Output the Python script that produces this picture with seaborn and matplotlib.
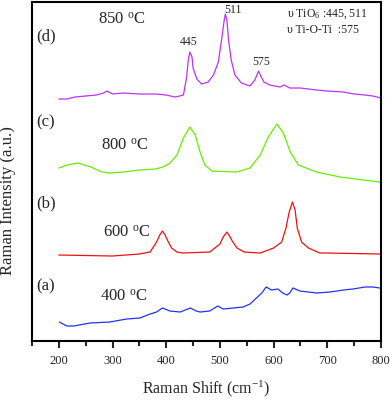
import numpy as np
import pandas as pd
import matplotlib
matplotlib.use('Agg')
import matplotlib.pyplot as plt
import seaborn as sns
from matplotlib.ticker import MultipleLocator

# Raman spectra (arbitrary intensity units)
x_400 = [201, 215, 228, 258, 295, 326, 351, 370, 382, 393, 407, 426, 445, 456, 463,
         481, 496, 506, 525, 543, 556, 568, 578, 586, 596, 608, 617, 625, 630, 636,
         649, 680, 705, 730, 748, 770, 785, 798]
y_400 = [19, 15, 15, 18, 19, 22, 23, 27, 29, 33, 30, 29, 33, 30, 29,
         30, 35, 32, 33, 34, 37, 43, 48, 54, 51, 52, 48, 46, 48, 53,
         50, 48, 49, 51, 52, 54, 54, 53]

x_600 = [200, 300, 350, 370, 382, 388, 393, 398, 403, 410, 420, 431, 481, 500, 506,
         513, 519, 524, 532, 545, 575, 600, 615, 623, 629, 635, 640, 644, 652, 665,
         686, 700, 800]
y_600 = [86, 85, 87, 89, 99, 106, 110, 106, 100, 93, 89, 88, 89, 97, 104,
         109, 104, 99, 93, 89, 88, 93, 99, 113, 129, 139, 131, 113, 99, 93,
         88, 88, 87]

x_800 = [200, 215, 236, 260, 280, 295, 320, 351, 380, 394, 407, 420, 432, 444, 454,
         463, 472, 485, 531, 556, 575, 590, 606, 618, 631, 646, 680, 724, 767, 798]
y_800 = [173, 176, 178, 174, 169, 168, 169, 171, 172, 174, 178, 186, 203, 214, 206,
         189, 176, 170, 169, 173, 186, 204, 217, 208, 189, 176, 169, 164, 161, 159]

x_850 = [200, 215, 230, 250, 270, 283, 290, 300, 320, 350, 380, 400, 416, 425, 432,
         438, 441, 444, 448, 450, 457, 466, 478, 488, 497, 503, 508, 510, 513, 516,
         521, 528, 540, 556, 565, 572, 576, 582, 593, 612, 620, 630, 650, 680, 700,
         730, 750, 770, 785, 800]
y_850 = [242, 242, 244, 245, 246, 248, 250, 247, 248, 247, 247, 246, 244, 245, 246,
         264, 281, 289, 284, 273, 262, 257, 259, 266, 279, 301, 321, 327, 321, 301,
         281, 266, 258, 255, 261, 270, 265, 259, 256, 254, 256, 253, 253, 251, 250,
         249, 247, 246, 245, 243]

series = ['400', '600', '800', '850']
colors = ['#2233ee', '#ee1111', '#66ee00', '#bb33ff']
temp_labels = ['400 $^{\\mathrm{o}}$C', '600 $^{\\mathrm{o}}$C',
               '800 $^{\\mathrm{o}}$C', '850 $^{\\mathrm{o}}$C']
letters = ['(a)', '(b)', '(c)', '(d)']
peak_labels = ['445', '511', '575']

frames = []
for name, xs, ys in zip(series, [x_400, x_600, x_800, x_850], [y_400, y_600, y_800, y_850]):
    frames.append(pd.DataFrame({'shift': xs, 'intensity': ys, 'sample': name}))
df = pd.concat(frames, ignore_index=True)

sns.set_style('ticks')
plt.rcParams['font.family'] = ['Liberation Serif', 'DejaVu Serif']
plt.rcParams['mathtext.fontset'] = 'custom'
plt.rcParams['mathtext.rm'] = 'Liberation Serif'
plt.rcParams['mathtext.it'] = 'Liberation Serif:italic'

fig = plt.figure(figsize=(3.92, 4.01), dpi=100)
ax = fig.add_axes([0.0816, 0.1496, 0.8904, 0.8454])

sns.lineplot(data=df, x='shift', y='intensity', hue='sample', palette=colors,
             hue_order=series, linewidth=0.9, legend=False, ax=ax, sort=False)

ax.set_xlim(150, 800)
ax.set_ylim(0, 339)
ax.set_yticks([])
ax.xaxis.set_major_locator(MultipleLocator(100))
ax.xaxis.set_minor_locator(MultipleLocator(50))
ax.set_xticks([200, 300, 400, 500, 600, 700, 800])
ax.tick_params(axis='x', which='major', direction='out', length=5, width=1.5,
               labelsize=9, pad=5)
ax.tick_params(axis='x', which='minor', direction='out', length=3.5, width=1.5)
for sp in ax.spines.values():
    sp.set_linewidth(1.5)
    sp.set_color('black')

ax.set_xlabel('Raman Shift (cm$^{-1}$)', fontsize=11.5, labelpad=8)
ax.set_ylabel('Raman Intensity (a.u.)', fontsize=12)
ax.yaxis.set_label_coords(-0.045, 0.415)

# sample labels
temp_x = [320, 327, 323, 318]
temp_y = [44, 108, 195, 321]
letter_y = [55, 138, 219, 305]
for t, tx, ty, l, ly in zip(temp_labels, temp_x, temp_y, letters, letter_y):
    ax.text(tx, ty, t, fontsize=12, ha='center', va='center')
    ax.text(176, ly, l, fontsize=12, ha='center', va='center')

# peak annotations
peak_x = [442, 524, 577]
peak_y = [299, 331, 279]
for p, px, py in zip(peak_labels, peak_x, peak_y):
    ax.text(px, py, p, fontsize=8.5, ha='center', va='center')

ax.text(0.73, 0.965, '\u03c5 TiO$_6$ :445, 511', transform=ax.transAxes,
        fontsize=8.5, ha='left', va='center')
ax.text(0.73, 0.918, '\u03c5 Ti-O-Ti  :575', transform=ax.transAxes,
        fontsize=8.5, ha='left', va='center')

fig.savefig('out.png', dpi=100)
